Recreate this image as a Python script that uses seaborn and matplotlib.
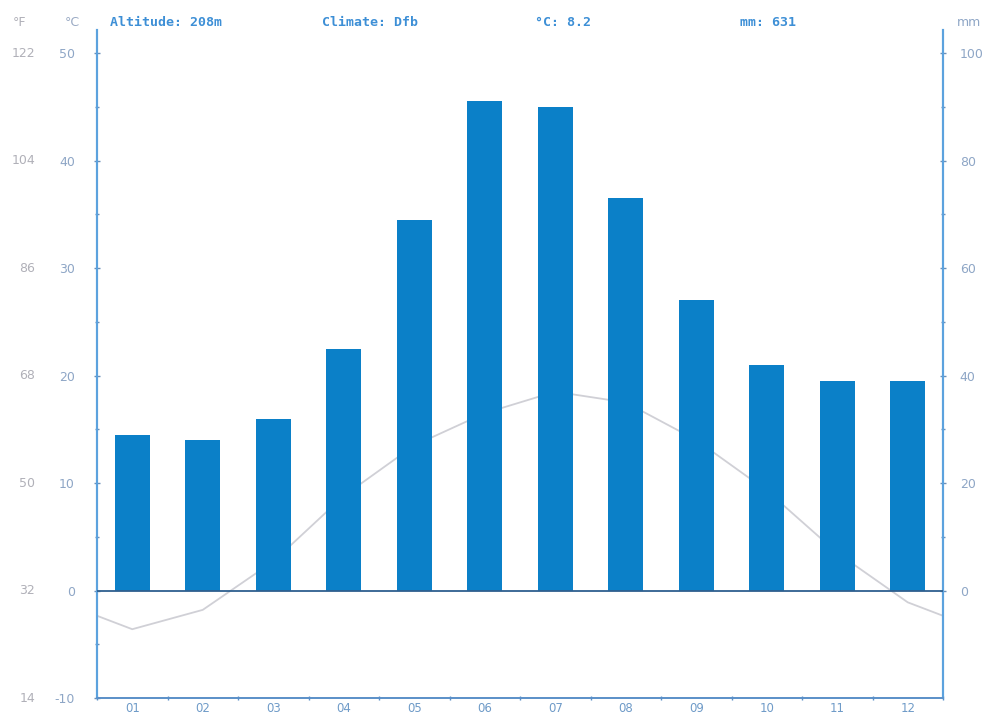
import matplotlib
matplotlib.use("Agg")
import matplotlib.pyplot as plt
import seaborn as sns
import pandas as pd
import numpy as np

months = ["01", "02", "03", "04", "05", "06", "07", "08", "09", "10", "11", "12"]
precip_mm = [29, 28, 32, 45, 69, 91, 90, 73, 54, 42, 39, 39]
temp_c = [-3.6, -1.8, 2.7, 8.8, 13.5, 16.5, 18.5, 17.5, 14.0, 9.3, 3.5, -1.1]
c_ticks = [-10, 0, 10, 20, 30, 40, 50]
f_labels = ["14", "32", "50", "68", "86", "104", "122"]
mm_ticks = [0, 20, 40, 60, 80, 100]
header = [("Altitude: 208m", 110), ("Climate: Dfb", 322), ("°C: 8.2", 535), ("mm: 631", 740)]

sns.set_style("white")
plt.rcParams["font.family"] = ["DejaVu Sans"]

W, H = 982, 718
fig = plt.figure(figsize=(W / 100, H / 100), dpi=100)
x0, x1, ytop, ybot = 97, 943, 30, 698
ax = fig.add_axes([x0 / W, 1 - ybot / H, (x1 - x0) / W, (ybot - ytop) / H])
ax2 = ax.twinx()

# temperature line (under bars), wrapped at edges
edge = (temp_c[0] + temp_c[-1]) / 2
line_df = pd.DataFrame({"x": [-0.5] + list(range(len(months))) + [len(months) - 0.5],
                        "t": [edge] + temp_c + [edge]})
sns.lineplot(data=line_df, x="x", y="t", ax=ax, sort=False, color="#d0d0d6", lw=1.3)

# precipitation bars
bar_df = pd.DataFrame({"month": months, "mm": precip_mm})
sns.barplot(data=bar_df, x="month", y="mm", ax=ax2, color="#0b80c8", width=0.5,
            saturation=1, edgecolor="none", zorder=2)
ax2.axhline(0, color="#2e5f8f", lw=1.3, zorder=3)

ax.set_xlim(-0.5, len(months) - 0.5)
ax2.set_xlim(-0.5, len(months) - 0.5)
ax.set_ylim(-10, 52.15)
ax2.set_ylim(-20, 104.3)

spine_c = "#5ca2de"
for a in (ax, ax2):
    a.spines["top"].set_visible(False)
    a.spines["left"].set_color(spine_c)
    a.spines["right"].set_color(spine_c)
    a.spines["left"].set_linewidth(1.5)
    a.spines["right"].set_linewidth(1.5)
    a.spines["bottom"].set_color("#5a8fc8")
    a.spines["bottom"].set_linewidth(1.2)
    a.set_xlabel("")
    a.set_ylabel("")
    a.grid(False)

# left °C ticks
ax.set_yticks(c_ticks)
ax.set_yticklabels([str(v) for v in c_ticks])
ax.set_yticks(np.arange(-5, 50, 10), minor=True)
ax.tick_params(axis="y", which="major", left=True, length=4, width=1, color="#6a8fb8",
               labelsize=9, labelcolor="#8ea6c6", pad=14, direction="inout")
ax.tick_params(axis="y", which="minor", left=True, length=3, width=1, color="#6a8fb8",
               direction="inout")

# x ticks on the base axis: labels at centers, small ticks at boundaries
ax.set_xticks(range(len(months)))
ax.set_xticklabels(months)
ax.set_xticks(np.arange(-0.5, len(months), 1), minor=True)
ax.tick_params(axis="x", which="major", bottom=True, labelbottom=True, length=0,
               labelsize=8.5, labelcolor="#6f9bc8", pad=3)
ax.tick_params(axis="x", which="minor", bottom=True, length=3, width=1, color="#5a8fc8",
               direction="inout")

# right mm ticks
ax2.set_yticks(mm_ticks)
ax2.set_yticklabels([str(v) for v in mm_ticks])
ax2.set_yticks(np.arange(10, 100, 20), minor=True)
ax2.tick_params(axis="y", which="major", right=True, length=4, width=1, color="#6a8fb8",
                labelsize=9, labelcolor="#8ea6c6", pad=10, direction="inout")
ax2.tick_params(axis="y", which="minor", right=True, length=3, width=1, color="#6a8fb8",
                direction="inout")

# °F labels
for v, lab in zip(c_ticks, f_labels):
    ax.text(-0.073, v, lab, transform=ax.get_yaxis_transform(), ha="right", va="center",
            fontsize=9, color="#b0b0b8")

# header
hy = 1 - 22 / H
fig.text(20 / W, hy, "°F", ha="center", va="center", fontsize=9, color="#b0b0b8")
fig.text(72 / W, hy, "°C", ha="center", va="center", fontsize=9, color="#9aaac4")
fig.text(957 / W, hy, "mm", ha="left", va="center", fontsize=9, color="#8ea6c6")
for txt, xp in header:
    fig.text(xp / W, hy, txt, ha="left", va="center", fontsize=9.5, color="#3d8fd6",
             family="DejaVu Sans Mono", fontweight="bold")

fig.savefig("out.png", dpi=100, facecolor="white")
